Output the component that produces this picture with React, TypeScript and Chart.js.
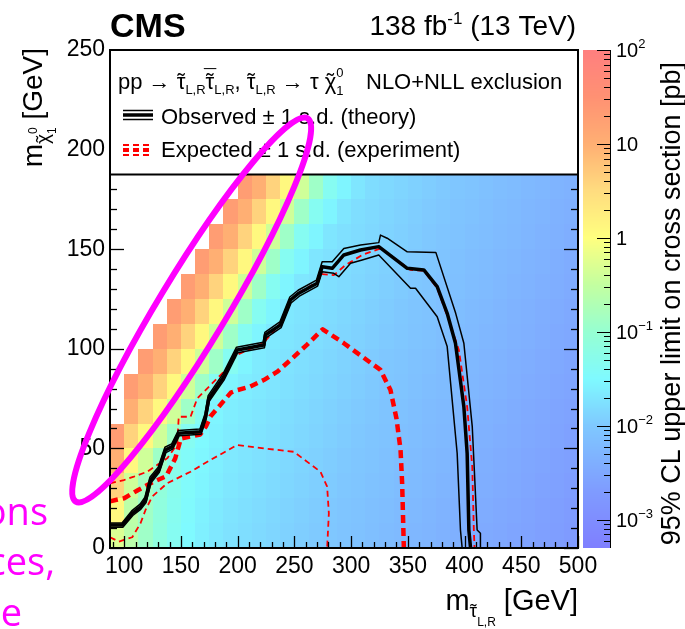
import React, { useEffect, useRef } from "react";
import { Chart, registerables } from "chart.js";

Chart.register(...registerables);

const FONT = "'Liberation Sans', Arial, Helvetica, sans-serif";
const SLIDE_FONT = "'Open Sans', 'Noto Sans', sans-serif";

// ---- axes ----
const X_MIN = 87.5;
const X_MAX = 500;
const Y_MIN = 0;
const Y_MAX = 250;
const xTickValues = [100, 150, 200, 250, 300, 350, 400, 450, 500];
const yTickValues = [0, 50, 100, 150, 200, 250];
const zDecades = [-3, -2, -1, 0, 1, 2];
const Z_LOG_MIN = -3.3;
const Z_LOG_MAX = 2.0;
const legendBottomY = 187.5;

// ---- heat map: log10(95% CL upper limit [pb]) per 12.5 GeV cell ----
const cellX0 = 87.5;
const cellSize = 12.5;
const N = null;
const limitLog10Rows: (number | null)[][] = [
  [-0.3, -0.6, -0.9, -1.15, -1.35, -1.5, -1.6, -1.68, -1.74, -1.78, -1.82, -1.86, -1.9, -1.94, -1.98, -2.02, -2.06, -2.1, -2.14, -2.18, -2.22, -2.26, -2.3, -2.34, -2.38, -2.42, -2.46, -2.5, -2.54, -2.58, -2.62, -2.66, -2.7],
  [0.1, -0.58, -0.88, -1.13, -1.33, -1.48, -1.58, -1.66, -1.72, -1.76, -1.8, -1.84, -1.88, -1.92, -1.96, -2.0, -2.04, -2.08, -2.12, -2.16, -2.2, -2.24, -2.28, -2.32, -2.36, -2.4, -2.44, -2.48, -2.52, -2.56, -2.6, -2.64, -2.68],
  [0.6, -0.4, -0.85, -1.1, -1.3, -1.45, -1.55, -1.63, -1.69, -1.73, -1.77, -1.81, -1.85, -1.89, -1.93, -1.97, -2.01, -2.05, -2.09, -2.13, -2.17, -2.21, -2.25, -2.29, -2.33, -2.37, -2.41, -2.45, -2.49, -2.53, -2.57, -2.61, -2.65],
  [1.0, 0.1, -0.4, -0.9, -1.28, -1.43, -1.53, -1.61, -1.67, -1.71, -1.75, -1.79, -1.83, -1.87, -1.91, -1.95, -1.99, -2.03, -2.07, -2.11, -2.15, -2.19, -2.23, -2.27, -2.31, -2.35, -2.39, -2.43, -2.47, -2.51, -2.55, -2.59, -2.63],
  [1.3, 0.6, 0.1, -0.4, -0.9, -1.35, -1.5, -1.58, -1.64, -1.68, -1.72, -1.76, -1.8, -1.84, -1.88, -1.92, -1.96, -2.0, -2.04, -2.08, -2.12, -2.16, -2.2, -2.24, -2.28, -2.32, -2.36, -2.4, -2.44, -2.48, -2.52, -2.56, -2.6],
  [N, 1.0, 0.6, 0.1, -0.4, -0.9, -1.35, -1.55, -1.62, -1.66, -1.7, -1.74, -1.78, -1.82, -1.86, -1.9, -1.94, -1.98, -2.02, -2.06, -2.1, -2.14, -2.18, -2.22, -2.26, -2.3, -2.34, -2.38, -2.42, -2.46, -2.5, -2.54, -2.58],
  [N, 1.3, 1.0, 0.6, 0.1, -0.4, -0.9, -1.35, -1.55, -1.63, -1.67, -1.71, -1.75, -1.79, -1.83, -1.87, -1.91, -1.95, -1.99, -2.03, -2.07, -2.11, -2.15, -2.19, -2.23, -2.27, -2.31, -2.35, -2.39, -2.43, -2.47, -2.51, -2.55],
  [N, N, 1.3, 1.0, 0.6, 0.1, -0.4, -0.9, -1.35, -1.55, -1.65, -1.69, -1.73, -1.77, -1.81, -1.85, -1.89, -1.93, -1.97, -2.01, -2.05, -2.09, -2.13, -2.17, -2.21, -2.25, -2.29, -2.33, -2.37, -2.41, -2.45, -2.49, -2.53],
  [N, N, N, 1.3, 1.0, 0.6, 0.1, -0.4, -0.9, -1.35, -1.55, -1.66, -1.7, -1.74, -1.78, -1.82, -1.86, -1.9, -1.94, -1.98, -2.02, -2.06, -2.1, -2.14, -2.18, -2.22, -2.26, -2.3, -2.34, -2.38, -2.42, -2.46, -2.5],
  [N, N, N, N, 1.3, 1.0, 0.6, 0.1, -0.4, -0.9, -1.35, -1.55, -1.68, -1.72, -1.76, -1.8, -1.84, -1.88, -1.92, -1.96, -2.0, -2.04, -2.08, -2.12, -2.16, -2.2, -2.24, -2.28, -2.32, -2.36, -2.4, -2.44, -2.48],
  [N, N, N, N, N, 1.3, 1.0, 0.6, 0.1, -0.4, -0.9, -1.35, -1.55, -1.69, -1.73, -1.77, -1.81, -1.85, -1.89, -1.93, -1.97, -2.01, -2.05, -2.09, -2.13, -2.17, -2.21, -2.25, -2.29, -2.33, -2.37, -2.41, -2.45],
  [N, N, N, N, N, N, 1.3, 1.0, 0.6, 0.1, -0.4, -0.9, -1.35, -1.55, -1.7, -1.75, -1.79, -1.83, -1.87, -1.91, -1.95, -1.99, -2.03, -2.07, -2.11, -2.15, -2.19, -2.23, -2.27, -2.31, -2.35, -2.39, -2.43],
  [N, N, N, N, N, N, N, 1.3, 1.0, 0.6, 0.1, -0.4, -0.9, -1.35, -1.55, -1.7, -1.76, -1.8, -1.84, -1.88, -1.92, -1.96, -2.0, -2.04, -2.08, -2.12, -2.16, -2.2, -2.24, -2.28, -2.32, -2.36, -2.4],
  [N, N, N, N, N, N, N, N, 1.3, 1.0, 0.6, 0.1, -0.4, -0.9, -1.35, -1.55, -1.7, -1.78, -1.82, -1.86, -1.9, -1.94, -1.98, -2.02, -2.06, -2.1, -2.14, -2.18, -2.22, -2.26, -2.3, -2.34, -2.38],
  [N, N, N, N, N, N, N, N, N, 1.3, 1.0, 0.6, 0.1, -0.4, -0.9, -1.35, -1.55, -1.7, -1.79, -1.83, -1.87, -1.91, -1.95, -1.99, -2.03, -2.07, -2.11, -2.15, -2.19, -2.23, -2.27, -2.31, -2.35],
];

// ---- contours [m_stau, m_chi] in GeV ----
const observed: number[][] = [
  [87.5, 11.5], [98.3, 11.5], [107.1, 17.4], [114.4, 20.7], [118.8, 24.1], [123.2, 34.1], [130.5, 39.2],
  [136.4, 49.2], [142.3, 50.9], [148.1, 57.6], [167.3, 58.4], [171.7, 65.9], [174.6, 75.1], [187.8, 86],
  [199.6, 99.4], [223.1, 101.9], [224.5, 106.9], [237.8, 112], [246.6, 124.5], [253.9, 127.9], [270.1, 132.9],
  [274.5, 141.2], [283.4, 140.4], [293.6, 147.1], [308.3, 149.6], [324.4, 151.3], [349.5, 140.4], [364.1, 139.6],
  [375.9, 131.2], [384.7, 117.8], [392, 102.8], [399.4, 70.9], [402.3, 47.5], [403.8, 9], [405.3, 0],
];
const observedUp: number[][] = [
  [87.5, 12.6], [98.1, 12.6], [106.6, 18.6], [114, 22], [118.3, 25.5], [122.7, 35.5], [130, 40.6],
  [135.9, 50.6], [141.9, 52.3], [147.7, 59], [166.8, 59.8], [171.2, 67.3], [174, 76.5], [187.2, 87.5],
  [199, 100.8], [222.5, 103.3], [224, 108.3], [237.2, 113.5], [246, 126], [253.3, 129.4], [269.5, 134.5],
  [274.5, 143.7], [283.4, 143.7], [293.6, 150.4], [308.3, 152.1], [324.4, 153.3], [325.9, 157.1],
  [331.8, 155.5], [349.5, 148.7], [374.7, 148.4], [392.2, 117.8], [399.4, 102.8], [406.8, 60.9],
  [408.2, 44.2], [411.1, 9], [414, 7.4], [414, 0],
];
const observedDown: number[][] = [
  [87.5, 10.4], [98.8, 10.4], [107.6, 16.3], [114.8, 19.5], [119.3, 22.8], [123.7, 32.8], [131, 38],
  [136.8, 47.9], [142.7, 49.6], [148.5, 56.3], [167.8, 57.1], [172.2, 64.6], [175.1, 73.8], [188.3, 84.6],
  [200.1, 98], [223.6, 100.5], [225, 105.5], [238.3, 110.6], [247.1, 123], [254.4, 126.4], [270.5, 131.5],
  [274.5, 138.7], [284.8, 137.9], [289.2, 136.2], [299.5, 142.9], [309.8, 144.6], [324.4, 147.1],
  [352.4, 130.4], [356.8, 130.4], [375.9, 116.1], [384.7, 101.1], [393.5, 47.5], [396.4, 9], [397.9, 0],
];
const expected: number[][] = [
  [87.5, 23.5], [100, 25], [112, 29], [125, 33], [137, 36], [145, 45], [150, 55], [167, 57], [172, 61],
  [176, 66], [182, 70], [194, 78], [200, 79.3], [211, 81], [223, 84.3], [235, 88.5], [246.6, 94.4],
  [261, 102], [275, 109.8], [293.6, 102.8], [310, 96], [325.9, 89.4], [334.7, 79.3], [340, 65],
  [343.6, 49.2], [345, 32.5], [346.5, 0],
];
const expectedUp: number[][] = [
  [87.5, 32.5], [99.7, 34.1], [108.5, 35.8], [120.3, 38.3], [130, 42], [137.9, 45], [146.7, 52],
  [148.1, 65.9], [158.5, 65.9], [164.4, 75.1], [176.1, 81.8], [187.8, 88.5], [199.6, 97], [223, 103],
  [238, 113], [247, 125], [255, 128.5], [270, 133.5], [274.5, 137.5], [284.8, 137], [295, 142],
  [309.8, 147.1], [325.9, 150.4], [352.4, 139.6], [364.1, 139.2], [375.9, 130.4], [386.1, 114.5],
  [395, 99.4], [402.3, 70.9], [406.8, 40.8], [408.2, 9], [408.8, 0],
];
const expectedDown: number[][] = [
  [87.5, 5.4], [95.3, 3.2], [107.1, 5.4], [114.4, 12.4], [118.8, 19.1], [124.7, 25.8], [137.9, 32.5],
  [158.5, 38.3], [176.1, 44.2], [199.6, 51.7], [223.1, 50], [249.5, 48.3], [273, 38.3], [278.9, 30.8],
  [280.4, 17.4], [278.9, 0],
];

// highlight ellipse (annotation) in data coordinates: major-axis tips
const highlightTips = [[56, 22], [263, 217]];

// ---- palette (log10 value -> rgb) ----
const paletteStops: number[][] = [
  [-3.3, 127, 127, 255],
  [-2.7, 127, 155, 255],
  [-2.0, 127, 200, 255],
  [-1.5, 127, 250, 255],
  [-1.0, 150, 255, 210],
  [-0.5, 195, 255, 160],
  [0.0, 255, 255, 127],
  [0.5, 255, 220, 127],
  [1.0, 255, 175, 115],
  [1.5, 255, 145, 115],
  [2.0, 255, 127, 127],
];

function paletteColor(v: number): string {
  const st = paletteStops;
  if (v <= st[0][0]) return `rgb(${st[0][1]},${st[0][2]},${st[0][3]})`;
  for (let k = 1; k < st.length; k++) {
    if (v <= st[k][0]) {
      const t = (v - st[k - 1][0]) / (st[k][0] - st[k - 1][0]);
      const r = st[k - 1][1] + t * (st[k][1] - st[k - 1][1]);
      const g = st[k - 1][2] + t * (st[k][2] - st[k - 1][2]);
      const b = st[k - 1][3] + t * (st[k][3] - st[k - 1][3]);
      return `rgb(${Math.round(r)},${Math.round(g)},${Math.round(b)})`;
    }
  }
  const c = st[st.length - 1];
  return `rgb(${c[1]},${c[2]},${c[3]})`;
}

type Accent = { t: string; size: number; dy: number };
type Seg = { t: string; size: number; dy?: number; bold?: boolean; stack?: boolean; family?: string; accents?: Accent[] };

function layoutSegs(ctx: CanvasRenderingContext2D, segs: Seg[], draw: boolean, x0: number, y: number): number {
  let cx = x0;
  let prevStart = x0;
  let prevW = 0;
  for (const s of segs) {
    const font = `${s.bold ? "bold " : ""}${s.size}px ${s.family || FONT}`;
    ctx.font = font;
    const w = ctx.measureText(s.t).width;
    const sx = s.stack ? prevStart : cx;
    if (draw) {
      ctx.fillText(s.t, sx, y + (s.dy || 0));
      if (s.accents) {
        for (const a of s.accents) {
          ctx.font = `${a.size}px ${FONT}`;
          const aw = ctx.measureText(a.t).width;
          ctx.fillText(a.t, sx + (w - aw) / 2, y + (s.dy || 0) + a.dy);
        }
        ctx.font = font;
      }
    }
    if (s.stack) {
      const m = Math.max(prevW, w);
      cx = prevStart + m;
      prevW = m;
    } else {
      prevStart = cx;
      prevW = w;
      cx += w;
    }
  }
  return cx - x0;
}

function drawSegs(ctx: CanvasRenderingContext2D, segs: Seg[], x: number, y: number, align = "left") {
  ctx.textAlign = "left";
  ctx.textBaseline = "alphabetic";
  const total = layoutSegs(ctx, segs, false, 0, 0);
  const start = align === "right" ? x - total : align === "center" ? x - total / 2 : x;
  layoutSegs(ctx, segs, true, start, y);
}

const tilde = (size: number): Accent[] => [{ t: "\u02DC", size, dy: 0 }];
const tildeBar = (size: number): Accent[] => [{ t: "\u02DC", size, dy: 0 }, { t: "\u00AF", size, dy: -4 }];

const heatmapPlugin = {
  id: "heatmap",
  beforeDatasetsDraw(chart: any) {
    const { ctx, chartArea: ca, scales } = chart;
    const xs = scales.x;
    const ys = scales.y;
    ctx.save();
    ctx.beginPath();
    ctx.rect(ca.left, ca.top, ca.right - ca.left, ca.bottom - ca.top);
    ctx.clip();
    limitLog10Rows.forEach((row, j) => {
      row.forEach((v, i) => {
        if (v === null) return;
        const x0 = Math.round(xs.getPixelForValue(cellX0 + i * cellSize));
        const x1 = Math.round(xs.getPixelForValue(cellX0 + (i + 1) * cellSize));
        const y0 = Math.round(ys.getPixelForValue((j + 1) * cellSize));
        const y1 = Math.round(ys.getPixelForValue(j * cellSize));
        ctx.fillStyle = paletteColor(v);
        ctx.fillRect(x0, y0, x1 - x0, y1 - y0);
      });
    });
    ctx.restore();
  },
};

const overlayPlugin = {
  id: "overlay",
  afterDatasetsDraw(chart: any) {
    const { ctx, chartArea: ca, scales } = chart;
    const xs = scales.x;
    const ys = scales.y;
    const zs = scales.z;
    ctx.save();

    // legend box
    const lbTop = ys.getPixelForValue(Y_MAX);
    const lbBot = ys.getPixelForValue(legendBottomY);
    ctx.fillStyle = "#fff";
    ctx.fillRect(ca.left, lbTop, ca.right - ca.left, lbBot - lbTop);
    ctx.strokeStyle = "#000";
    ctx.lineWidth = 2;
    ctx.strokeRect(ca.left, lbTop, ca.right - ca.left, lbBot - lbTop);

    const line = (x1: number, y1: number, x2: number, y2: number) => {
      ctx.beginPath();
      ctx.moveTo(x1, y1);
      ctx.lineTo(x2, y2);
      ctx.stroke();
    };
    // ticks (inside)
    ctx.lineWidth = 1.3;
    for (let v = 90; v <= X_MAX; v += 10) {
      const px = Math.round(xs.getPixelForValue(v)) + 0.5;
      const len = v % 50 === 0 ? 12 : 6;
      line(px, ca.bottom, px, ca.bottom - len);
    }
    for (let v = Y_MIN; v <= Y_MAX; v += 10) {
      const py = Math.round(ys.getPixelForValue(v)) + 0.5;
      if (py < lbBot + 2) continue;
      const len = v % 50 === 0 ? 14 : 7;
      line(ca.left, py, ca.left + len, py);
      line(ca.right, py, ca.right - len, py);
    }
    // frame
    ctx.lineWidth = 2;
    ctx.strokeRect(ca.left, ca.top, ca.right - ca.left, ca.bottom - ca.top);

    // legend content
    ctx.fillStyle = "#000";
    const lx = ca.left;
    drawSegs(ctx, [
      { t: "pp \u2192 ", size: 22 },
      { t: "\u03C4", size: 22, accents: tilde(22) },
      { t: "L,R", size: 13, dy: 5 },
      { t: "\u03C4", size: 22, accents: tildeBar(22) },
      { t: "L,R", size: 13, dy: 5 },
      { t: ", ", size: 22 },
      { t: "\u03C4", size: 22, accents: tilde(22) },
      { t: "L,R", size: 13, dy: 5 },
      { t: " \u2192 \u03C4 ", size: 22 },
      { t: "\u03C7", size: 22, accents: tilde(22) },
      { t: "0", size: 13, dy: -12 },
      { t: "1", size: 13, dy: 6, stack: true },
    ], lx + 8, lbTop + 38.5);
    drawSegs(ctx, [{ t: "NLO+NLL exclusion", size: 22 }], lx + 256, lbTop + 38.5);

    // observed symbol
    ctx.strokeStyle = "#000";
    ctx.lineWidth = 1.5;
    line(lx + 13, lbTop + 60.5, lx + 43, lbTop + 60.5);
    line(lx + 13, lbTop + 69.5, lx + 43, lbTop + 69.5);
    ctx.lineWidth = 3.5;
    line(lx + 13, lbTop + 65, lx + 43, lbTop + 65);
    drawSegs(ctx, [{ t: "Observed \u00B1 1 s.d. (theory)", size: 22 }], lx + 51, lbTop + 74);

    // expected symbol
    ctx.strokeStyle = "#ff0000";
    ctx.setLineDash([6, 4]);
    ctx.lineWidth = 1.8;
    line(lx + 13, lbTop + 95, lx + 43, lbTop + 95);
    line(lx + 13, lbTop + 105, lx + 43, lbTop + 105);
    ctx.lineWidth = 4;
    line(lx + 13, lbTop + 100, lx + 43, lbTop + 100);
    ctx.setLineDash([]);
    drawSegs(ctx, [{ t: "Expected \u00B1 1 s.d. (experiment)", size: 22 }], lx + 51, lbTop + 106.5);

    // colour bar
    const cbL = ca.right + 5;
    const cbR = ca.right + 32;
    const zTop = zs.getPixelForValue(Math.pow(10, Z_LOG_MAX));
    const zBot = zs.getPixelForValue(Math.pow(10, Z_LOG_MIN));
    for (let py = Math.floor(zTop); py < Math.ceil(zBot); py++) {
      const val = zs.getValueForPixel(py + 0.5);
      ctx.fillStyle = paletteColor(Math.log10(val));
      ctx.fillRect(cbL, py, cbR - cbL, 1);
    }
    ctx.strokeStyle = "#000";
    ctx.lineWidth = 1;
    line(cbR + 0.5, zTop, cbR + 0.5, zBot);
    for (let d = -4; d <= 2; d++) {
      for (let m = 1; m <= 9; m++) {
        const v = m * Math.pow(10, d);
        const lv = Math.log10(v);
        if (lv < Z_LOG_MIN || lv > Z_LOG_MAX + 1e-9) continue;
        const py = Math.round(zs.getPixelForValue(v)) + 0.5;
        line(cbR, py, cbR - (m === 1 ? 13 : 6), py);
      }
    }
    ctx.fillStyle = "#000";
    for (const d of zDecades) {
      const py = zs.getPixelForValue(Math.pow(10, d));
      let segs: Seg[];
      if (d === 0) segs = [{ t: "1", size: 20 }];
      else if (d === 1) segs = [{ t: "10", size: 20 }];
      else segs = [{ t: "10", size: 20 }, { t: d < 0 ? "\u2212" + String(-d) : String(d), size: 13, dy: -9 }];
      drawSegs(ctx, segs, cbR + 6, py + 7);
    }

    // z title
    ctx.save();
    ctx.translate(680, ca.top + 12);
    ctx.rotate(-Math.PI / 2);
    drawSegs(ctx, [{ t: "95% CL upper limit on cross section [pb]", size: 27 }], 0, 0, "right");
    ctx.restore();

    // y title
    ctx.save();
    ctx.translate(42, ca.top - 2);
    ctx.rotate(-Math.PI / 2);
    drawSegs(ctx, [
      { t: "m", size: 28 },
      { t: "\u03C7", size: 19, dy: 7, accents: tilde(19) },
      { t: "0", size: 12, dy: -5 },
      { t: "1", size: 12, dy: 14, stack: true },
      { t: " [GeV]", size: 28 },
    ], 0, 0, "right");
    ctx.restore();

    // x title
    drawSegs(ctx, [
      { t: "m", size: 29 },
      { t: "\u03C4", size: 19, dy: 7, accents: tilde(19) },
      { t: "L,R", size: 12, dy: 16 },
      { t: " [GeV]", size: 29 },
    ], ca.right, 610, "right");

    // header
    drawSegs(ctx, [{ t: "CMS", size: 34, bold: true }], ca.left, 37);
    drawSegs(ctx, [
      { t: "138 fb", size: 28 },
      { t: "-1", size: 17, dy: -11 },
      { t: " (13 TeV)", size: 28 },
    ], ca.right - 2, 35, "right");

    // magenta annotation
    const p1x = xs.getPixelForValue(highlightTips[0][0]);
    const p1y = ys.getPixelForValue(highlightTips[0][1]);
    const p2x = xs.getPixelForValue(highlightTips[1][0]);
    const p2y = ys.getPixelForValue(highlightTips[1][1]);
    const cx = (p1x + p2x) / 2;
    const cy = (p1y + p2y) / 2;
    const a = Math.hypot(p2x - p1x, p2y - p1y) / 2 - 3;
    const ang = Math.atan2(p2y - p1y, p2x - p1x);
    ctx.strokeStyle = "#ff00ff";
    ctx.lineWidth = 6;
    ctx.beginPath();
    ctx.ellipse(cx, cy, a, 34, ang, 0, Math.PI * 2);
    ctx.stroke();

    ctx.fillStyle = "#ff00ff";
    drawSegs(ctx, [{ t: "ons", size: 38, family: SLIDE_FONT }], 48, 525, "right");
    drawSegs(ctx, [{ t: "ces,", size: 38, family: SLIDE_FONT }], 55, 575, "right");
    drawSegs(ctx, [{ t: "e", size: 38, family: SLIDE_FONT }], 22, 626, "right");

    ctx.restore();
  },
};

const toPts = (arr: number[][]) => arr.map(([x, y]) => ({ x, y }));

export default function App() {
  const ref = useRef<HTMLCanvasElement>(null);
  useEffect(() => {
    const canvas = ref.current;
    if (!canvas) return;
    const common = { showLine: true, pointRadius: 0, pointHoverRadius: 0, fill: false, tension: 0, borderJoinStyle: "round" as const };
    const chart = new Chart(canvas, {
      type: "scatter",
      data: {
        datasets: [
          { ...common, label: "Observed", data: toPts(observed), borderColor: "#000", borderWidth: 3.5 },
          { ...common, label: "Observed +1 s.d.", data: toPts(observedUp), borderColor: "#000", borderWidth: 1.5 },
          { ...common, label: "Observed -1 s.d.", data: toPts(observedDown), borderColor: "#000", borderWidth: 1.5 },
          { ...common, label: "Expected +1 s.d.", data: toPts(expectedUp), borderColor: "#ff0000", borderWidth: 1.8, borderDash: [6, 4] },
          { ...common, label: "Expected -1 s.d.", data: toPts(expectedDown), borderColor: "#ff0000", borderWidth: 1.8, borderDash: [6, 4] },
          { ...common, label: "Expected", data: toPts(expected), borderColor: "#ff0000", borderWidth: 4.5, borderDash: [8, 5] },
        ],
      },
      options: {
        responsive: false,
        maintainAspectRatio: false,
        devicePixelRatio: 1,
        animation: false,
        events: [],
        layout: { padding: { left: 0, right: 107, top: 50, bottom: 0 } },
        plugins: { legend: { display: false }, tooltip: { enabled: false } },
        scales: {
          x: {
            type: "linear",
            min: X_MIN,
            max: X_MAX,
            grid: { display: false, drawTicks: false },
            border: { display: false },
            afterBuildTicks: (s: any) => { s.ticks = xTickValues.map((value) => ({ value })); },
            afterFit: (s: any) => { s.height = 81; },
            ticks: { font: { family: FONT, size: 23 }, color: "#000", padding: 5, maxRotation: 0, autoSkip: false },
          },
          y: {
            type: "linear",
            min: Y_MIN,
            max: Y_MAX,
            grid: { display: false, drawTicks: false },
            border: { display: false },
            afterBuildTicks: (s: any) => { s.ticks = yTickValues.map((value) => ({ value })); },
            afterFit: (s: any) => { s.width = 110; },
            ticks: { font: { family: FONT, size: 23 }, color: "#000", padding: 5, autoSkip: false },
          },
          z: {
            type: "logarithmic",
            axis: "y",
            position: "right",
            display: false,
            min: Math.pow(10, Z_LOG_MIN),
            max: Math.pow(10, Z_LOG_MAX),
          },
        },
      } as any,
      plugins: [heatmapPlugin, overlayPlugin],
    });
    return () => chart.destroy();
  }, []);
  return (
    <div style={{ position: "fixed", left: 0, top: 0, width: 685, height: 629, background: "#fff" }}>
      <canvas ref={ref} width={685} height={629} style={{ display: "block", width: 685, height: 629 }} />
    </div>
  );
}
